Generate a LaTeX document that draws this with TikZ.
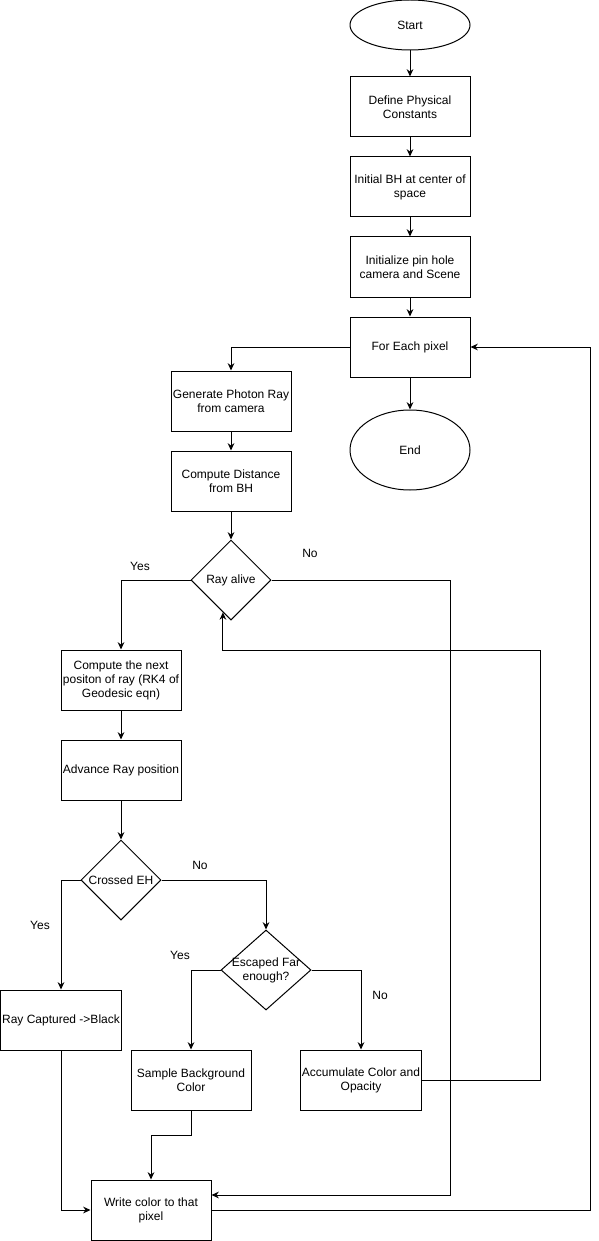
\documentclass[tikz,border=0pt]{standalone}
\usepackage{fontspec}
\setmainfont{Liberation Sans}
\usetikzlibrary{shapes.geometric,arrows.meta,calc}

\begin{document}
\begin{tikzpicture}[x=0.75pt, y=-0.75pt, line width=0.75pt,
  font=\fontsize{9}{10.5}\selectfont,
  box/.style={draw, rectangle, minimum width=90pt, minimum height=45pt, inner sep=1pt, align=center},
  terminal/.style={draw, ellipse, minimum width=90pt, inner sep=0pt},
  decision/.style={draw, diamond, minimum width=60pt, minimum height=60pt, inner sep=0pt},
  arr/.style={-{Stealth[length=5.5pt, width=5pt]}}]

\useasboundingbox (0,0) rectangle (599,1241);

\node[terminal, minimum height=37.5pt] (start) at (410, 25) {Start};
\node[box] (define) at (410, 107) {Define Physical\\Constants};
\node[box] (initbh) at (410, 187) {Initial BH at center of\\space};
\node[box] (initcam) at (410, 267) {Initialize pin hole\\camera and Scene};
\node[box] (pixel) at (410, 347) {For Each pixel};
\node[terminal, minimum height=60pt] (finish) at (410, 450) {End};
\node[box] (gen) at (231, 401) {Generate Photon Ray\\from camera};
\node[box] (dist) at (231, 481) {Compute Distance\\from BH};
\node[decision, label={center:Ray alive}] (alive) at (231, 580) {};
\node[box] (rk4) at (121, 680) {Compute the next\\positon of ray (RK4 of\\Geodesic eqn)};
\node[box] (adv) at (121, 770) {Advance Ray position};
\node[decision, label={center:Crossed EH}] (eh) at (121, 880) {};
\node[decision, minimum width=67.5pt, label={[align=center]center:Escaped Far\\enough?}] (esc) at (266, 970) {};
\node[box] (capt) at (61, 1020) {Ray Captured ->Black};
\node[box] (bg) at (191, 1080) {Sample Background\\Color};
\node[box] (acc) at (361, 1080) {Accumulate Color and\\Opacity};
\node[box] (write) at (151, 1210) {Write color to that\\pixel};

\node (yes1) at (140, 566) {Yes};
\node (no1) at (310, 553) {No};
\node (no2) at (200, 865) {No};
\node (yes2) at (40, 925) {Yes};
\node (yes3) at (180, 955) {Yes};
\node (no3) at (380, 995) {No};

\draw[arr] (start) -- (define);
\draw[arr] (define) -- (initbh);
\draw[arr] (initbh) -- (initcam);
\draw[arr] (initcam) -- (pixel);
\draw[arr] (pixel) -- (finish);
\draw[arr] (pixel.west) -| (gen.north);
\draw[arr] (gen) -- (dist);
\draw[arr] (dist) -- (alive);
\draw[arr] (alive.west) -| (rk4.north);
\draw[arr] (alive.east) -- ++(179,0) |- ([yshift=11.25pt]write.east);
\draw[arr] (rk4) -- (adv);
\draw[arr] (adv) -- (eh);
\draw[arr] (eh.west) -| (capt.north);
\draw[arr] (eh.east) -| (esc.north);
\draw[arr] (esc.west) -| (bg.north);
\draw[arr] (esc.east) -| (acc.north);
\draw[arr] (acc.east) -- ++(119,0) -- ++(0,-430) -| ($(alive.south)!0.2!(alive.west)$);
\draw[arr] (bg.south) -- ++(0,25) -| (write.north);
\draw[arr] (capt.south) |- (write.west);
\draw[arr] (write.east) -- ++(379,0) |- (pixel.east);

\end{tikzpicture}
\end{document}
